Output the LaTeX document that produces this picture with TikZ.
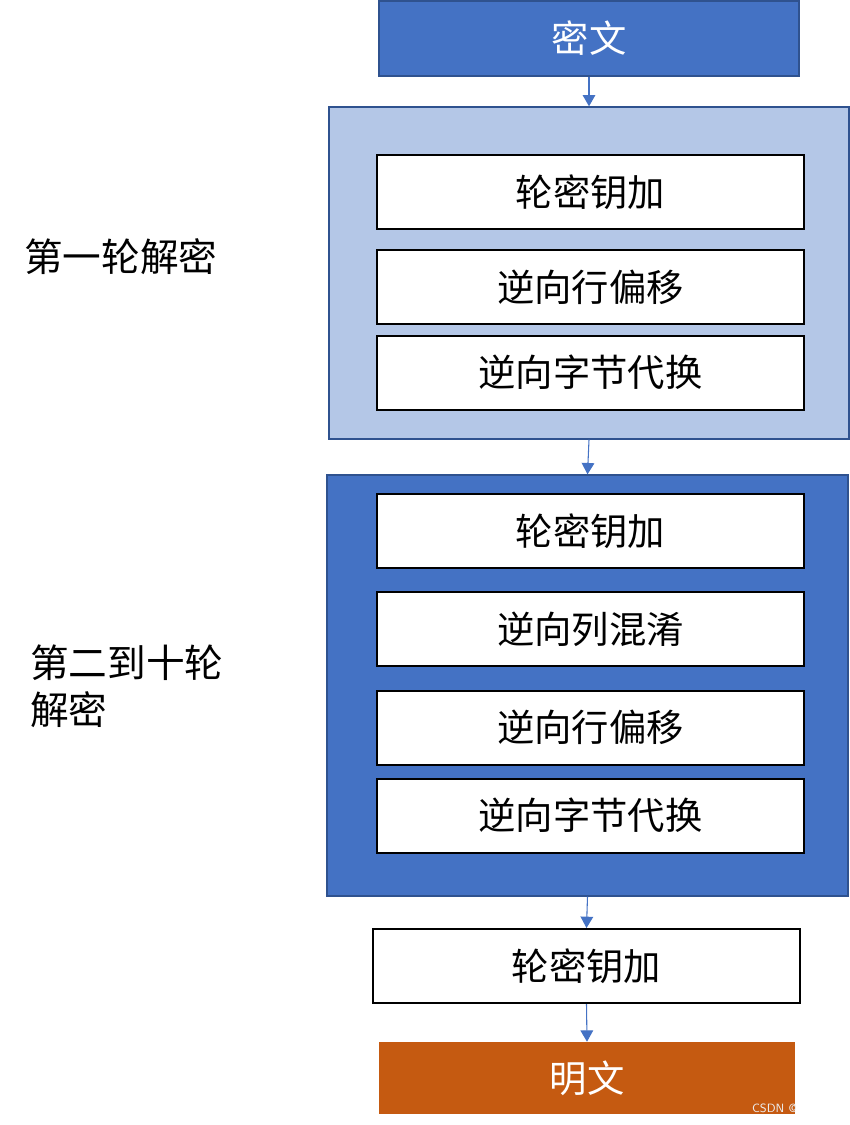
\documentclass[tikz,border=0pt]{standalone}
\usepackage{fontspec}
\setmainfont{Noto Sans CJK SC}
\usetikzlibrary{arrows.meta}
\definecolor{blueA}{HTML}{4472C4}
\definecolor{blueB}{HTML}{B4C7E7}
\definecolor{blueEdge}{HTML}{2F528F}
\definecolor{rust}{HTML}{C55A11}
\tikzset{
	txt/.style={font=\fontsize{28}{33}\selectfont},
	stepbox/.style={txt, draw=black, line width=1.5pt, fill=white, minimum width=320.25pt, minimum height=55.5pt, inner sep=0pt},
	roundbox/.style={draw=blueEdge, line width=1pt, minimum width=390pt, inner sep=0pt},
	endbox/.style={txt, text=white, minimum height=55pt, inner sep=0pt},
	flow/.style={blueA, line width=0.8pt, -{Triangle[length=8.5pt,width=9.5pt]}}
}
\begin{document}
\begin{tikzpicture}[x=0.75pt, y=-0.75pt]
			\useasboundingbox (0,0) rectangle (850,1125);
			\node[endbox, fill=blueA, draw=blueEdge, line width=1pt, minimum width=315pt, minimum height=56.25pt] (ct) at (589,38.5) {密文};
			\node[roundbox, fill=blueB, minimum height=249pt] (r1) at (589,273) {};
			\node[stepbox] (r1a) at (590.5,192) {轮密钥加};
			\node[stepbox] (r1b) at (590.5,287) {逆向行偏移};
			\node[stepbox] (r1c) at (590.5,372.5) {逆向字节代换};
			\node[roundbox, fill=blueA, minimum width=390.75pt, minimum height=315.75pt] (r2) at (587.5,685.5) {};
			\node[stepbox] (r2a) at (590.5,531) {轮密钥加};
			\node[stepbox] (r2b) at (590.5,629) {逆向列混淆};
			\node[stepbox] (r2c) at (590.5,727.5) {逆向行偏移};
			\node[stepbox] (r2d) at (590.5,815.5) {逆向字节代换};
			\node[stepbox] (fin) at (586.5,966) {轮密钥加};
			\node[endbox, fill=rust, minimum width=312pt, minimum height=54pt] (pt) at (587,1078) {明文};
			\node[txt, anchor=west, inner sep=0pt, font=\fontsize{29}{35}\selectfont] (lab1) at (24,257) {第一轮解密};
			\node[txt, anchor=west, align=left, inner sep=0pt, font=\fontsize{29}{35.25}\selectfont] (lab2) at (30,686.5) {第二到十轮\\解密};
			\node[font=\sffamily\fontsize{9}{10}\selectfont, text=white!85!gray, anchor=east, inner sep=0pt] (wm) at (797,1108) {CSDN @};
			\draw[flow] (ct.south) -- (r1.north);
			\draw[flow] (r1.south) -- (r2.north);
			\draw[flow] (r2.south) -- (fin.north);
			\draw[flow] (fin.south) -- (pt.north);
		\end{tikzpicture}
\end{document}
